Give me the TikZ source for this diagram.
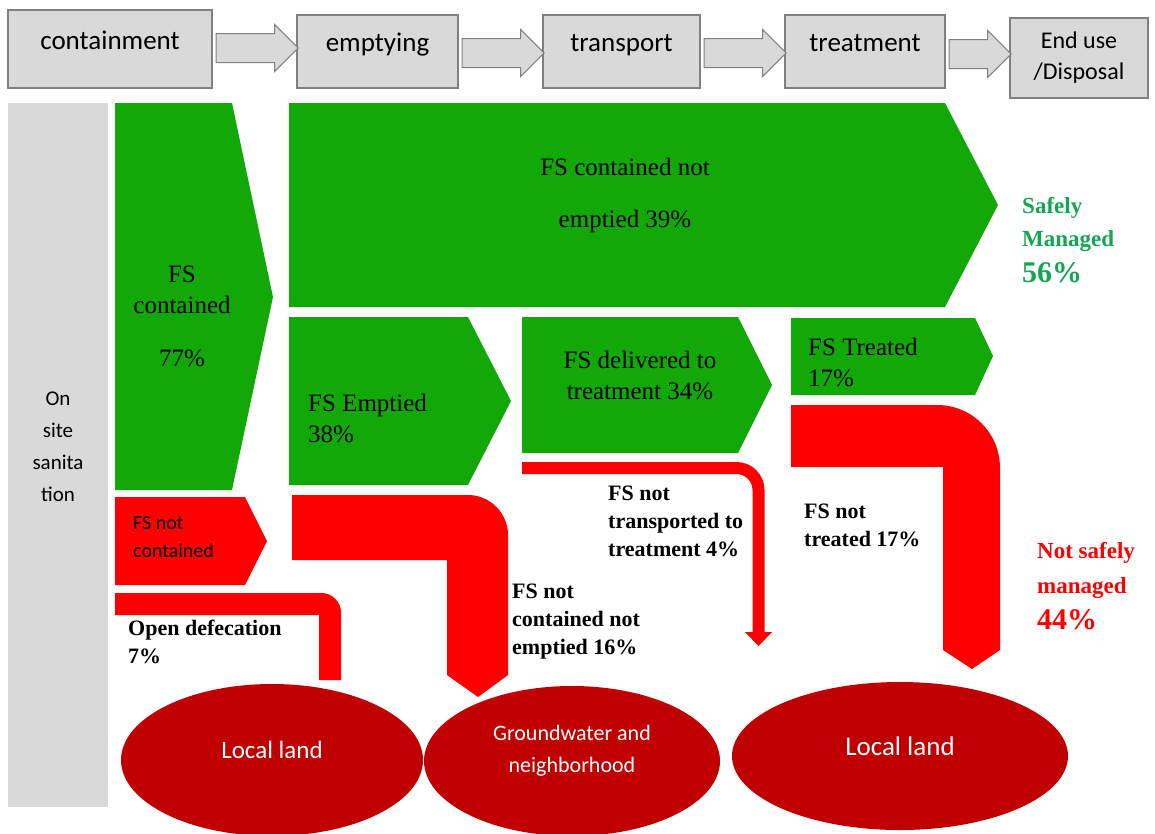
\documentclass[tikz,border=0pt]{standalone}
\usepackage{fontspec}
\setmainfont{Liberation Serif}
\newfontfamily\calibri{Carlito}
\usepackage{xcolor}
\usepackage{tikz}
\usetikzlibrary{shapes,shapes.geometric,shapes.arrows,calc,positioning}

\definecolor{stagegray}{RGB}{217,217,217}
\definecolor{stageline}{RGB}{128,128,128}
\definecolor{goodgreen}{RGB}{17,168,8}
\definecolor{badred}{RGB}{255,0,0}
\definecolor{landred}{RGB}{192,0,0}
\definecolor{safegreen}{RGB}{20,165,85}

\begin{document}
\begin{tikzpicture}[x=1pt,y=-1pt]
	\tikzstyle{stage} = [draw=stageline,fill=stagegray,line width=1.2pt,rectangle,inner sep=0pt,font=\calibri\fontsize{27}{31}\selectfont,text height=0pt,text depth=0pt]
	\tikzstyle{stage2} = [draw=stageline,fill=stagegray,line width=1.2pt,rectangle,inner sep=0pt,align=center,font=\calibri\fontsize{24}{31}\selectfont]
	\tikzstyle{stagearrow} = [single arrow,draw=stageline,fill=stagegray,line width=1pt,inner xsep=0pt,inner ysep=14pt,minimum width=46pt,single arrow head extend=9pt,anchor=tail]
	\tikzstyle{goodflow} = [fill=goodgreen]
	\tikzstyle{badflow} = [fill=badred]
	\tikzstyle{flowtext} = [inner sep=0pt,font=\fontsize{25}{31}\selectfont]
	\tikzstyle{losstext} = [inner sep=0pt,align=left,anchor=west,font=\bfseries\fontsize{22}{28}\selectfont]
	\tikzstyle{sink} = [ellipse,fill=landred,text=white,inner sep=0pt,align=center,text depth=20pt,font=\calibri\fontsize{25}{32}\selectfont]

	\useasboundingbox (0,0) rectangle (1155,833);

	% service chain
	\node[stage,minimum width=204pt,minimum height=78pt] (cont) at (110,49) {containment};
	\node[stage,minimum width=161pt,minimum height=73pt] (emp) at (377.5,51.5) {emptying};
	\node[stage,minimum width=157pt,minimum height=73pt] (trans) at (621.5,51.5) {transport};
	\node[stage,minimum width=160pt,minimum height=73pt] (treat) at (865,51.5) {treatment};
	\node[stage2,minimum width=138pt,minimum height=80pt] (enduse) at (1079,58) {End use\\/Disposal};

	\node[stagearrow,minimum height=82pt] (a1) at ([xshift=3pt,yshift=1pt]cont.east) {};
	\node[stagearrow,minimum height=82pt] (a2) at ([xshift=3pt,yshift=-1.5pt]emp.east) {};
	\node[stagearrow,minimum height=82pt] (a3) at ([xshift=3pt,yshift=-1.5pt]trans.east) {};
	\node[stagearrow,minimum height=62pt] (a4) at ([xshift=3pt,yshift=-2.5pt]treat.east) {};

	\node[fill=stagegray,minimum width=100pt,minimum height=704pt,inner sep=0pt,align=center,text depth=16pt,font=\calibri\fontsize{21}{32}\selectfont] (onsite) at (58,455) {On\\site\\sanita\\tion};

	% safely managed flows
	\fill[goodflow] (115,103) -- (232,103) -- (273,297) -- (232,490) -- (115,490) -- cycle;
	\node[flowtext,align=center] (contained) at (182,316) {FS\\contained\\[22pt]77\%};

	\fill[goodflow] (289,103) -- (945,103) -- (998,205) -- (945,307) -- (289,307) -- cycle;
	\node[flowtext,align=center] (notemptied) at (625,195) {FS contained not\\[21pt]emptied 39\%};

	\fill[goodflow] (289,317) -- (468,317) -- (511,401) -- (468,485) -- (289,485) -- cycle;
	\node[flowtext,align=left,anchor=west] (emptied) at (308,418) {FS Emptied\\38\%};

	\fill[goodflow] (522,317) -- (738,317) -- (772,385) -- (738,453) -- (522,453) -- cycle;
	\node[flowtext,align=center] (delivered) at (640,375) {FS delivered to\\treatment 34\%};

	\fill[goodflow] (791,318) -- (975,318) -- (993,356) -- (975,395) -- (791,395) -- cycle;
	\node[flowtext,align=left,anchor=west] (treated) at (808,362) {FS Treated\\17\%};

	% not safely managed flows
	\fill[badflow] (115,497) -- (245,497) -- (267,541) -- (245,585) -- (115,585) -- cycle;
	\node[inner sep=0pt,align=left,anchor=west,font=\calibri\fontsize{20}{28}\selectfont] (notcont) at (133,537) {FS not\\contained};

	\fill[badflow] (115,593) -- (322,593) .. controls (332,593) and (341,602) .. (341,612) -- (341,680) -- (319,680) -- (319,615) -- (115,615) -- cycle;
	\node[losstext] (opendef) at (128,642) {Open defecation\\7\%};

	\fill[badflow] (292,495) -- (468,495) .. controls (490,495) and (508,513) .. (508,535) -- (508,675) -- (478,697) -- (447,675) -- (447,560) -- (292,560) -- cycle;
	\node[losstext] (notemp) at (512,622) {FS not\\contained not\\emptied 16\%};

	\draw[badred,line width=12pt,rounded corners=22pt] (522,468) -| (758.5,633);
	\fill[badflow] (745,632) -- (772,632) -- (758.5,646) -- cycle;
	\node[losstext] (nottrans) at (608,521) {FS not\\transported to\\treatment 4\%};

	\fill[badflow] (791,405) -- (937,405) .. controls (972,405) and (1000,433) .. (1000,468) -- (1000,650) -- (972,669) -- (943,650) -- (943,467) -- (791,467) -- cycle;
	\node[losstext] (nottreat) at (804,525) {FS not\\treated 17\%};

	% outcome totals
	\node[inner sep=0pt,align=left,anchor=west,text=safegreen,font=\bfseries\fontsize{23}{33}\selectfont] (safe) at (1022,240) {Safely\\Managed\\[3pt]{\fontsize{30}{33}\selectfont 56\%}};
	\node[inner sep=0pt,align=left,anchor=west,text=badred,font=\bfseries\fontsize{23}{35}\selectfont] (unsafe) at (1037,586) {Not safely\\managed\\[1pt]{\fontsize{30}{33}\selectfont 44\%}};

	% where it ends up
	\node[sink,minimum width=302pt,minimum height=152pt] (land1) at (272,760) {Local land};
	\node[sink,minimum width=296pt,minimum height=150pt,text depth=25pt,font=\calibri\fontsize{22}{32}\selectfont] (ground) at (572,761) {Groundwater and\\neighborhood};
	\node[sink,minimum width=336pt,minimum height=148pt,font=\calibri\fontsize{27}{32}\selectfont] (land2) at (900,756) {Local land};

\end{tikzpicture}
\end{document}
